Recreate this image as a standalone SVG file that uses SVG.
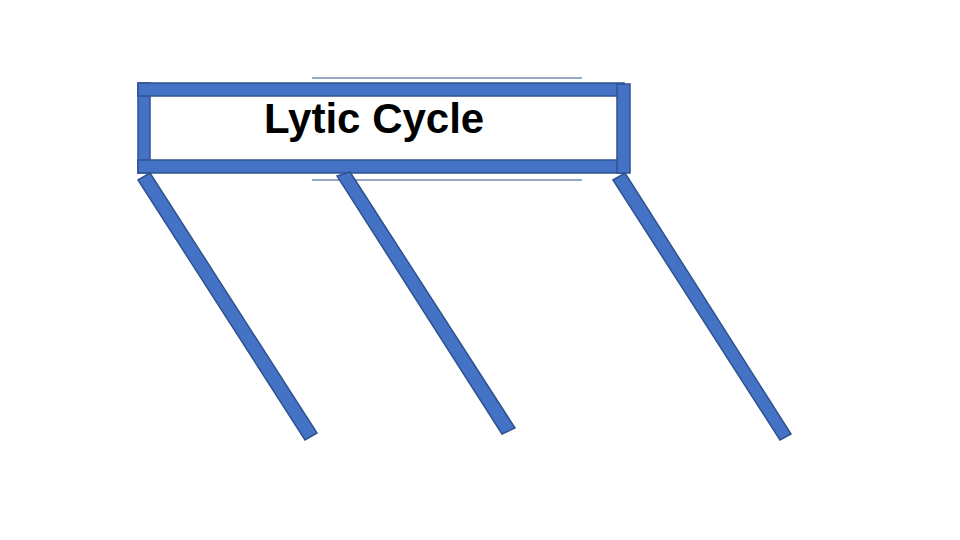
<svg xmlns="http://www.w3.org/2000/svg" width="960" height="540" viewBox="0 0 960 540">
<style>
.bar{fill:#4472C4;stroke:#2F528F;stroke-width:1.5}
.thin{stroke:#2F528F;stroke-width:1;fill:none}
.lbl{font-family:"Liberation Sans",Arial,sans-serif;font-weight:bold;font-size:42px;fill:#000}
</style>
<rect width="960" height="540" fill="#fff"/>
<g id="frame">
<line class="thin" x1="312" y1="78" x2="582" y2="78"/>
<line class="thin" x1="312" y1="180" x2="582" y2="180"/>
<rect class="bar" x="138" y="83" width="12" height="90"/>
<rect class="bar" x="138" y="83" width="486" height="13"/>
<rect class="bar" x="138" y="160" width="486" height="13"/>
<rect class="bar" x="617" y="84" width="13" height="89"/>
</g>
<g id="title">
<text class="lbl" x="264" y="133">Lytic Cycle</text>
</g>
<g id="connectors">
<polygon class="bar" points="138,180 150,173 317,433 305,440"/>
<polygon class="bar" points="337,176 350,172 515,428 502,434"/>
<polygon class="bar" points="613,180 625,173 791,434 780,440"/>
</g>
</svg>
